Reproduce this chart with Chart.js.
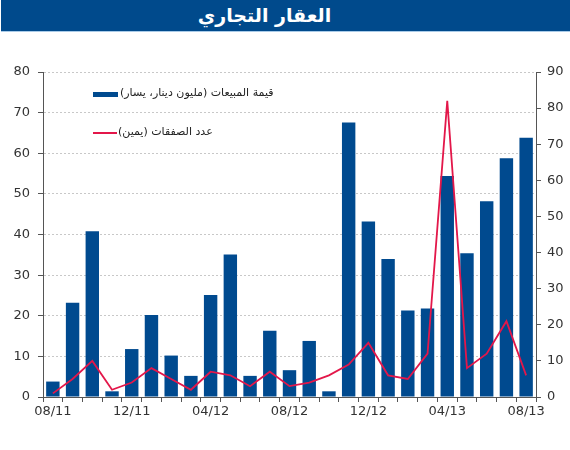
<!DOCTYPE html>
<html>
<head>
<meta charset="utf-8">
<script src="https://cdn.jsdelivr.net/npm/chart.js@4"></script>
<style>
  html, body { margin: 0; padding: 0; background: #fff; }
  #wrap { position: relative; width: 570px; height: 450px; overflow: hidden; }
  #title { position: absolute; left: 1px; top: 0; width: 569px; height: 31px; background: #004A8C;
           border-bottom: 1px solid #a9cbe8; z-index: 2; }
  #title span { position: absolute; left: 0; width: 527px; top: 1px; text-align: center; color: #fff;
                font: bold 19px "DejaVu Sans", sans-serif; line-height: 28px; }
  .leg { position: absolute; z-index: 2; font: 11px "DejaVu Sans", sans-serif; color: #222; white-space: nowrap; }
  .sw { position: absolute; z-index: 2; }
  canvas { position: absolute; left: 0; top: 0; }
</style>
</head>
<body>
<div id="wrap">
  <div id="title"><span dir="rtl">العقار التجاري</span></div>
  <div class="sw" style="left:93px;top:92px;width:25px;height:5px;background:#004A8F"></div>
  <div class="leg" dir="rtl" style="left:120px;top:86px;">قيمة المبيعات (مليون دينار، يسار)</div>
  <div class="sw" style="left:93px;top:132px;width:24px;height:2px;background:#E3174A"></div>
  <div class="leg" dir="rtl" style="left:118px;top:125px;">عدد الصفقات (يمين)</div>
  <canvas id="c" width="570" height="450"></canvas>
</div>
<script>
const categories = ["08/11","09/11","10/11","11/11","12/11","01/12","02/12","03/12","04/12","05/12","06/12","07/12",
                    "08/12","09/12","10/12","11/12","12/12","01/13","02/13","03/13","04/13","05/13","06/13","07/13","08/13"];
const salesValue = [3.8, 23.2, 40.8, 1.4, 11.8, 20.2, 10.2, 5.2, 25.1, 35.1, 5.2, 16.3,
                    6.6, 13.8, 1.4, 67.6, 43.2, 34.0, 21.3, 21.8, 54.4, 35.4, 48.2, 58.8, 63.8];
const dealsCount = [1, 5, 10, 2, 4, 8, 5, 2, 7, 6, 3, 7,
                    3, 4, 6, 9, 15, 6, 5, 12, 82, 8, 12, 21, 6];
const leftTicks = [0, 10, 20, 30, 40, 50, 60, 70, 80];
const rightTicks = [0, 10, 20, 30, 40, 50, 60, 70, 80, 90];
const labelEvery = 4;

const tickFont = { family: "'DejaVu Sans', sans-serif", size: 13 };

new Chart(document.getElementById('c'), {
  data: {
    labels: categories,
    datasets: [
      { type: 'line', label: 'عدد الصفقات (يمين)', data: dealsCount, yAxisID: 'y1',
        borderColor: '#E3174A', borderWidth: 1.8, pointRadius: 0, tension: 0, order: 0 },
      { type: 'bar', label: 'قيمة المبيعات (مليون دينار، يسار)', data: salesValue, yAxisID: 'y',
        backgroundColor: '#004A8F', barPercentage: 0.68, categoryPercentage: 1, order: 1 }
    ]
  },
  options: {
    responsive: false,
    animation: false,
    layout: { padding: { top: 72, left: 0, right: 0, bottom: 0 } },
    plugins: { legend: { display: false }, tooltip: { enabled: false }, title: { display: false } },
    scales: {
      x: {
        offset: true,
        grid: { offset: true, drawOnChartArea: false, tickLength: 5, color: '#555', tickColor: '#555' },
        border: { color: '#555', width: 1 },
        ticks: { autoSkip: false, maxRotation: 0, padding: 2, color: '#333', font: tickFont,
                 callback: function(v, i) { return i % labelEvery === 0 ? categories[i] : ''; } },
        afterFit: s => { s.height = 53; }
      },
      y: {
        position: 'left', min: 0, max: 80,
        afterBuildTicks: s => { s.ticks = leftTicks.map(v => ({ value: v })); },
        grid: { color: '#c8c8c8', tickColor: '#555', tickLength: 5, tickBorderDash: [], lineWidth: 1 },
        border: { color: '#555', width: 1, dash: [2, 2] },
        ticks: { padding: 8, color: '#333', font: tickFont },
        afterFit: s => { s.width = 43; }
      },
      y1: {
        position: 'right', min: 0, max: 90,
        afterBuildTicks: s => { s.ticks = rightTicks.map(v => ({ value: v })); },
        grid: { drawOnChartArea: false, tickColor: '#555', tickLength: 5 },
        border: { color: '#555', width: 1 },
        ticks: { padding: 6, color: '#333', font: tickFont },
        afterFit: s => { s.width = 34; }
      }
    }
  }
});
</script>
</body>
</html>
